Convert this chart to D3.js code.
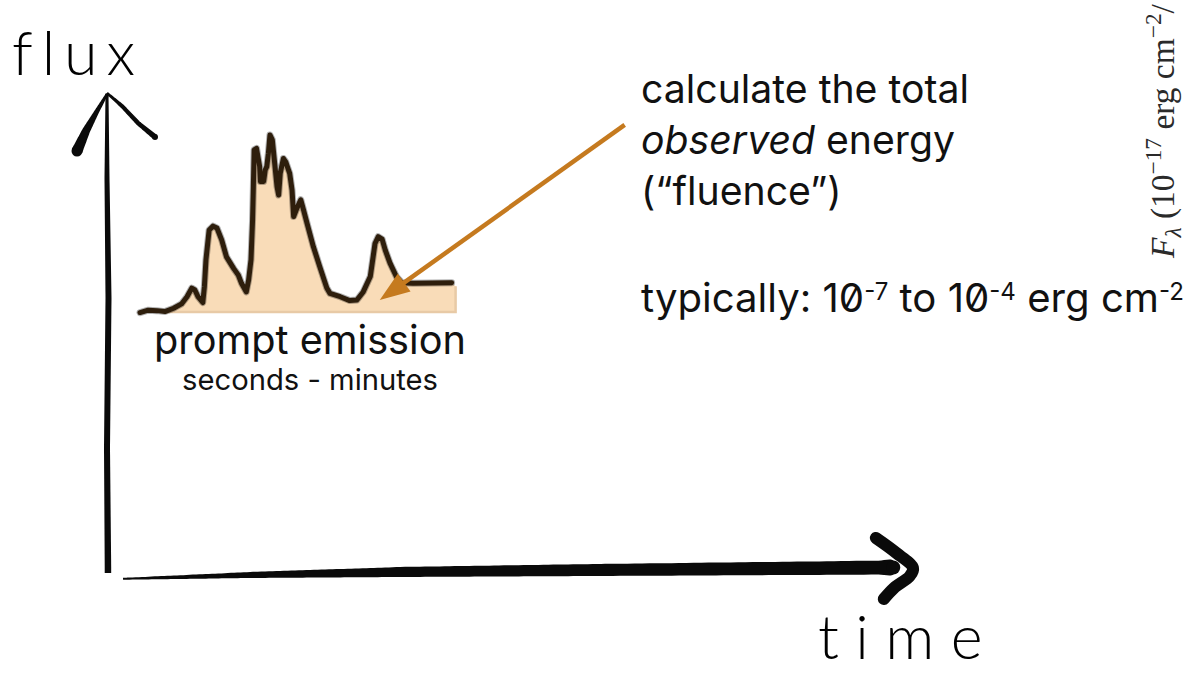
<!DOCTYPE html>
<html><head><meta charset="utf-8">
<script src="https://cdn.jsdelivr.net/npm/d3@7"></script>
<style>html,body{margin:0;padding:0;background:#fff;overflow:hidden}</style>
</head><body><svg id="c" width="1189" height="673"></svg>
<script>
// ---- data (arbitrary units) ----
const curveTime = [4.05,5.1,6.2,7.2,8.3,9.3,10.0,10.6,11.0,11.4,12.0,12.2,12.4,12.8,13.3,13.8,14.4,15.0,15.9,16.5,16.9,17.5,17.8,18.1,18.3,18.4,18.5,18.8,19.2,19.3,19.7,19.9,20.1,20.3,20.5,20.8,21.1,21.4,21.6,21.8,22.2,22.5,23.0,23.3,23.5,23.9,24.4,24.7,25.2,26.0,26.8,27.7,28.1,29.4,30.6,31.5,32.3,33.2,33.8,34.2,34.7,35.1,35.7,36.5,37.2,38.6,43.5];
const curveFlux = [55.3,55.8,55.7,55.5,56.2,57.1,58.6,60.4,60.0,58.6,57.4,60.7,66.3,72.5,73.3,72.9,70.4,66.9,64.5,63.1,61.4,59.6,62.1,66.3,74.6,81.5,89.2,89.5,85.7,82.6,82.6,85.0,85.7,88.5,92.3,91.3,86.4,81.5,79.8,84.3,87.4,86.7,84.3,80.8,75.3,77.0,78.8,77.0,73.9,69.0,64.9,60.4,59.3,58.6,57.8,57.9,59.6,62.8,69.7,71.1,70.6,68.3,65.6,62.8,61.5,61.4,61.5];
const fillRange = [7.2, 44.0];      // time span of the shaded fluence
const fillBase = 55.2;              // flux baseline of the shaded area
const fillEndFlux = 60.8;
const axisLabels = ["time", "flux"];
const burstLabels = ["prompt emission", "seconds - minutes"];
const noteLines = ["calculate the total", "observed", " energy", "(\u201cfluence\u201d)"];
const rangeParts = ["typically: 10", "-7", " to 10", "-4", " erg cm", "-2"];
const arrowFrom = [65.4, 94.4];     // [time, flux]
const arrowTo = [34.4, 57.9];

// ---- scales ----
const svg = d3.select("#c");
const x = d3.scaleLinear().domain([0, 100]).range([108, 898]);
const y = d3.scaleLinear().domain([0, 100]).range([578, 98]);

// tapered stroke helper
function taper(pts, widths, n = 80) {
  const idx = d3.range(pts.length);
  const px = d3.scaleLinear().domain(idx).range(pts.map(p => p[0]));
  const py = d3.scaleLinear().domain(idx).range(pts.map(p => p[1]));
  const pw = d3.scaleLinear().domain(idx).range(widths);
  const samp = d3.range(n + 1).map(i => i / n * (pts.length - 1));
  const P = samp.map(s => [px(s), py(s), pw(s)]);
  const up = [], lo = [];
  P.forEach((p, i) => {
    const a = P[Math.max(0, i - 1)], b = P[Math.min(P.length - 1, i + 1)];
    let dx = b[0] - a[0], dy = b[1] - a[1];
    const L = Math.hypot(dx, dy) || 1; dx /= L; dy /= L;
    up.push([p[0] - dy * p[2] / 2, p[1] + dx * p[2] / 2]);
    lo.push([p[0] + dy * p[2] / 2, p[1] - dx * p[2] / 2]);
  });
  return d3.line().curve(d3.curveCatmullRom)(up.concat(lo.reverse())) + "Z";
}

// ---- hand-drawn axes ----
const ax = svg.append("g").attr("fill", "#0a0a0a");
const x0 = x(0), y0 = y(0);
// y axis
ax.append("path").attr("d", taper(
  [[x0, y0 - 5], [x0 - 1, y0 - 130], [x0 + 0.5, y0 - 280], [x0 - 1, y0 - 400], [x0 - 1, y0 - 484]],
  [6.5, 6, 6, 5, 3]));
ax.append("path").attr("d", taper(
  [[x0 - 1, y0 - 484], [x0 - 12, y0 - 465], [x0 - 22, y0 - 447], [x0 - 31, y0 - 427]],
  [2.5, 5, 8, 11]));
ax.append("circle").attr("cx", x0 - 31).attr("cy", y0 - 427).attr("r", 5.5);
ax.append("path").attr("d", taper(
  [[x0 - 1, y0 - 485], [x0 + 14, y0 - 472], [x0 + 30, y0 - 455], [x0 + 47, y0 - 441]],
  [2.5, 4, 4.5, 5.5]));
ax.append("circle").attr("cx", x0 + 47).attr("cy", y0 - 441).attr("r", 3);
// x axis
ax.append("path").attr("d", taper(
  [[x(1.9), y0 + 0.8], [x(18), y0 - 3], [x(37), y0 - 6], [x(62), y0 - 8], [x(99.4), y0 - 10.5]],
  [2, 6, 10, 12, 14]));
ax.append("circle").attr("cx", x(99.4)).attr("cy", y0 - 10.5).attr("r", 7);
svg.append("path")
  .attr("d", d3.line().curve(d3.curveCatmullRom)([[x(97.2), y0 - 40], [x(99.8), y0 - 25], [x(101.9), y0 - 10], [x(101.5), y0 - 2], [x(99.5), y0 + 10], [x(98.2), y0 + 21]]))
  .attr("fill", "none").attr("stroke", "#0a0a0a").attr("stroke-width", 12)
  .attr("stroke-linecap", "round").attr("stroke-linejoin", "round");

// ---- fluence area ----
const pts = curveTime.map((t, i) => [t, curveFlux[i]]);
const fillPts = pts.filter(p => p[0] >= fillRange[0]).concat([[fillRange[1], fillEndFlux]]);
const area = d3.area().x(d => x(d[0])).y0(y(fillBase)).y1(d => y(d[1]));
svg.append("path").attr("d", area(fillPts)).attr("fill", "#f9dcb8");
svg.append("path")
  .attr("d", d3.line()([[x(fillRange[0]), y(fillBase) - 1], [x(fillRange[1]), y(fillBase) - 1], [x(fillRange[1]), y(fillEndFlux)]]))
  .attr("fill", "none").attr("stroke", "#e8caa6").attr("stroke-width", 2.5);

// ---- light curve ----
const line = d3.line().x(d => x(d[0])).y(d => y(d[1]));
svg.append("path").attr("d", line(pts)).attr("fill", "none")
  .attr("stroke", "#000").attr("stroke-width", 7).attr("stroke-opacity", 0.3)
  .attr("stroke-linejoin", "round").attr("stroke-linecap", "round");
svg.append("path").attr("d", line(pts)).attr("fill", "none")
  .attr("stroke", "#2e1e0c").attr("stroke-width", 5)
  .attr("stroke-linejoin", "round").attr("stroke-linecap", "round");

// ---- annotation arrow ----
const ac = "#c57a1f";
const A = [x(arrowFrom[0]), y(arrowFrom[1])], B = [x(arrowTo[0]), y(arrowTo[1])];
const ux = (B[0] - A[0]), uy = (B[1] - A[1]), uL = Math.hypot(ux, uy);
const u = [ux / uL, uy / uL], headL = 30, headW = 11;
const base = [B[0] - u[0] * headL, B[1] - u[1] * headL];
svg.append("line").attr("x1", A[0]).attr("y1", A[1]).attr("x2", base[0] + u[0] * 4).attr("y2", base[1] + u[1] * 4)
  .attr("stroke", ac).attr("stroke-width", 4.5);
svg.append("path").attr("d", d3.line()([B, [base[0] - u[1] * headW, base[1] + u[0] * headW], [base[0] + u[1] * headW, base[1] - u[0] * headW]]) + "Z")
  .attr("fill", ac);

// ---- text ----
function fit(sel, w) {
  const l = sel.node().getComputedTextLength();
  const fs = parseFloat(sel.style("font-size"));
  sel.style("font-size", (fs * w / l) + "px");
}
function spread(sel, w) {
  const l = sel.node().getComputedTextLength();
  const n = sel.text().length;
  sel.style("letter-spacing", ((w - l) / n) + "px");
}
const sans = "Inter, 'Noto Sans', sans-serif";
const hand = "Lato, 'Open Sans', sans-serif";

const tFlux = svg.append("text").attr("x", 12).attr("y", 75).text(axisLabels[1])
  .style("font-family", hand).style("font-weight", 300).style("font-size", "61px").attr("fill", "#000");
spread(tFlux, 132);
const tTime = svg.append("text").attr("x", 818).attr("y", 659).text(axisLabels[0])
  .style("font-family", hand).style("font-weight", 300).style("font-size", "61px").attr("fill", "#000");
spread(tTime, 182);

const pe = svg.append("text").attr("x", 310).attr("y", 354).attr("text-anchor", "middle")
  .text(burstLabels[0]).style("font-family", sans).style("font-size", "34px").attr("fill", "#111");
fit(pe, 312);
const sm = svg.append("text").attr("x", 310).attr("y", 390).attr("text-anchor", "middle")
  .text(burstLabels[1]).style("font-family", sans).style("font-size", "24px").attr("fill", "#111");
fit(sm, 256);

const note = svg.append("g").style("font-family", sans).attr("fill", "#111")
  .style("font-feature-settings", "'zero' 1");
const l1 = note.append("text").attr("x", 641).attr("y", 103).text(noteLines[0]).style("font-size", "36px");
fit(l1, 328);
const fs = l1.style("font-size");
const l2 = note.append("text").attr("x", 641).attr("y", 154).style("font-size", fs);
l2.append("tspan").text(noteLines[1]).style("font-style", "italic");
l2.append("tspan").text(noteLines[2]);
note.append("text").attr("x", 641).attr("y", 205).style("font-size", fs).text(noteLines[3]);
const l4 = note.append("text").attr("x", 641).attr("y", 312).style("font-size", fs);
rangeParts.forEach((s, i) => {
  const sup = i % 2 === 1;
  const ts = l4.append("tspan").text(s);
  if (sup) ts.style("font-size", "0.6em").attr("dy", "-0.5em");
  else if (i > 0) ts.attr("dy", "0.3em");
});
fit(l4, 543);

// cut-off rotated axis label from a neighbouring figure
const rot = svg.append("text").attr("transform", "translate(1174,258) rotate(-90)")
  .style("font-family", "'Liberation Serif', 'DejaVu Serif', serif").style("font-size", "28px").attr("fill", "#2a2a2a");
rot.append("tspan").text("F").style("font-style", "italic");
rot.append("tspan").text("\u03bb").style("font-style", "italic").style("font-size", "0.7em").attr("dy", "0.3em");
rot.append("tspan").text(" (10").attr("dy", "-0.21em");
rot.append("tspan").text("\u221217").style("font-size", "0.7em").attr("dy", "-0.55em");
rot.append("tspan").text(" erg cm").attr("dy", "0.38em");
rot.append("tspan").text("\u22122").style("font-size", "0.7em").attr("dy", "-0.55em");
rot.append("tspan").text("/").attr("dy", "0.38em");
fit(rot, 254);
</script></body></html>
